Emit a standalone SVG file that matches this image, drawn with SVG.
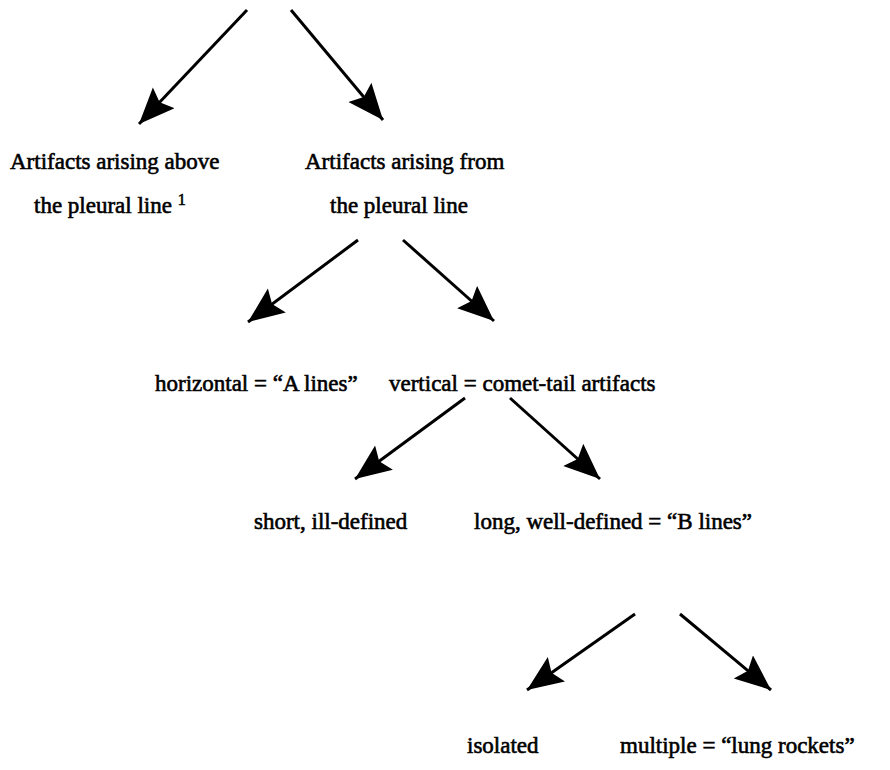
<svg xmlns="http://www.w3.org/2000/svg" width="890" height="770" viewBox="0 0 890 770">
<defs>
<marker id="ah" markerUnits="userSpaceOnUse" markerWidth="40" markerHeight="34" refX="36" refY="15" orient="auto">
<path d="M0,0 L36,15 L0,30 L6,15 z" fill="#000"/>
</marker>
<style>
.t{font-family:"Liberation Serif","Times New Roman",serif;font-size:23px;fill:#000;stroke:#000;stroke-width:0.6}
.c line{stroke:#000;stroke-width:3;marker-end:url(#ah)}
</style>
</defs>
<rect width="890" height="770" fill="#fff"/>
<g class="c" id="connectors">
<line x1="247" y1="10" x2="139" y2="124"/>
<line x1="291" y1="10" x2="383" y2="120"/>
<line x1="358" y1="240" x2="248" y2="322"/>
<line x1="403" y1="240" x2="494" y2="321"/>
<line x1="465" y1="398" x2="355" y2="479"/>
<line x1="510" y1="398" x2="600" y2="479"/>
<line x1="635" y1="614" x2="527" y2="690"/>
<line x1="680" y1="614" x2="771" y2="690"/>
</g>
<g id="n1"><text class="t" x="10" y="169">Artifacts arising above</text><text class="t" x="34" y="213">the pleural line <tspan font-size="16" dy="-8">1</tspan></text></g>
<g id="n2"><text class="t" x="305" y="169">Artifacts arising from</text><text class="t" x="330" y="213">the pleural line</text></g>
<g id="n3"><text class="t" x="155" y="391">horizontal = “A lines”</text></g>
<g id="n4"><text class="t" x="389" y="391">vertical = comet-tail artifacts</text></g>
<g id="n5"><text class="t" x="254" y="529">short, ill-defined</text></g>
<g id="n6"><text class="t" x="474" y="529">long, well-defined = “B lines”</text></g>
<g id="n7"><text class="t" x="467" y="753">isolated</text></g>
<g id="n8"><text class="t" x="620" y="753">multiple = “lung rockets”</text></g>
</svg>
